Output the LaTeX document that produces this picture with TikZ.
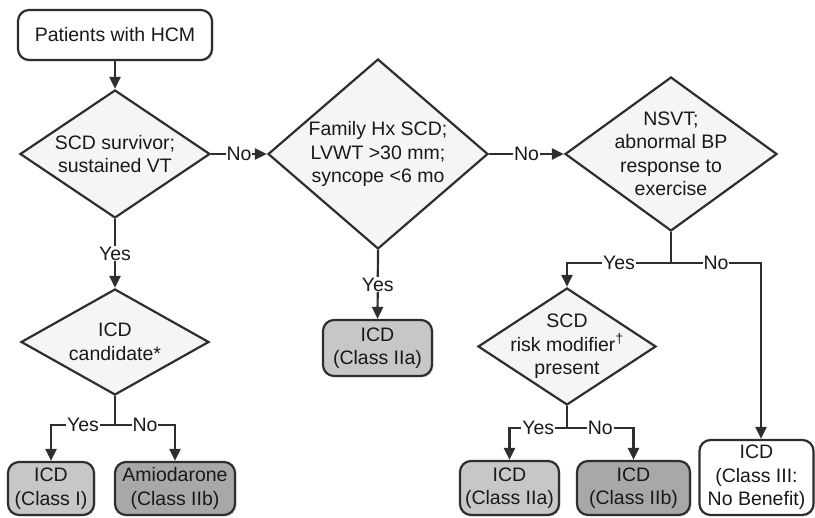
\documentclass[tikz,border=0pt]{standalone}
\usepackage{fontspec}
\setmainfont{Liberation Sans}
\usetikzlibrary{shapes.geometric,arrows.meta,shadows,calc}
\begin{document}
\begin{tikzpicture}[x=1pt,y=-1pt,
  line/.style={draw=black!82, line width=2.2pt},
  arr/.style={line, -{Triangle[length=12pt,width=11pt]}},
  shad/.style={drop shadow={opacity=0.2,shadow xshift=1.5pt,shadow yshift=-1.5pt}},
  dec/.style={diamond, draw=black!82, line width=2.2pt, inner sep=0pt, fill=black!4},
  txt/.style={align=center, font=\fontsize{19.5}{23.5}\selectfont, text=black!90, inner sep=0pt},
  box/.style={rectangle, rounded corners=11pt, draw=black!82, line width=2.2pt, txt, shad},
  light/.style={box, fill=black!22},
  dark/.style={box, fill=black!34},
  plain/.style={box, fill=white},
  lbl/.style={fill=white, font=\fontsize{19.5}{22}\selectfont, text=black!90, inner sep=1pt}
]
\useasboundingbox (0,0) rectangle (815,518);

% start
\node[plain, minimum width=194pt, minimum height=50pt] (start) at (115,35) {Patients with HCM};

% decisions
\node[dec, minimum width=190pt, minimum height=128pt] (d1) at (115,154) {};
\node[txt] (d1t) at (d1) {SCD survivor;\\sustained VT};

\node[dec, minimum width=220pt, minimum height=190pt] (d2) at (378,154) {};
\node[txt] (d2t) at (d2) {Family Hx SCD;\\LVWT >30 mm;\\syncope <6 mo};

\node[dec, minimum width=212pt, minimum height=154pt] (d3) at (671,154) {};
\node[txt] (d3t) at (d3) {NSVT;\\abnormal BP\\response to\\exercise};

\node[dec, minimum width=188pt, minimum height=106pt] (d5) at (115,342) {};
\node[txt] (d5t) at (d5) {ICD\\candidate*};

\node[dec, minimum width=178pt, minimum height=117pt] (d4) at (567,346.5) {};
\node[txt] (d4t) at (d4) {SCD\\risk modifier\textsuperscript{†}\\present};

% outcomes
\node[light, minimum width=86pt, minimum height=53pt] (b1) at (51,488.5) {ICD\\(Class I)};
\node[dark, minimum width=120pt, minimum height=53pt] (b2) at (175,488.5) {Amiodarone\\(Class IIb)};
\node[light, minimum width=109pt, minimum height=56pt] (b3) at (377.5,348) {ICD\\(Class IIa)};
\node[light, minimum width=99pt, minimum height=54pt] (b4) at (509.5,488) {ICD\\(Class IIa)};
\node[dark, minimum width=113pt, minimum height=54pt] (b5) at (633.5,488) {ICD\\(Class IIb)};
\node[plain, minimum width=114pt, minimum height=75pt] (b6) at (756.5,477.5) {ICD\\(Class III:\\No Benefit)};

% junctions
\coordinate (j3) at (671,263);
\coordinate (r3) at (761,263);
\coordinate (j4) at (567,428);
\coordinate (j5) at (115,425);

% connectors
\draw[arr] (start) -- (d1);
\draw[arr] (d1.east) -- node[lbl]{No} (d2.west);
\draw[arr] (d2.east) -- node[lbl]{No} (d3.west);
\draw[arr] (d1.south) -- node[lbl]{Yes} (d5.north);
\draw[arr] (d2.south) -- node[lbl]{Yes} (b3.north);

\draw[line] (d3.south) -- (j3);
\draw[arr] (j3) -| node[lbl, pos=0.25]{Yes} (d4.north);
\draw[arr] (j3) -- node[lbl]{No} (r3) -- (r3 |- b6.north);

\draw[line] (d4.south) -- (j4);
\draw[arr] (j4) -| node[lbl, pos=0.25]{Yes} (b4.north);
\draw[arr] (j4) -| node[lbl, pos=0.25]{No} (b5.north);

\draw[line] (d5.south) -- (j5);
\draw[arr] (j5) -| node[lbl, pos=0.25]{Yes} (b1.north);
\draw[arr] (j5) -| node[lbl, pos=0.25]{No} (b2.north);
\end{tikzpicture}
\end{document}
